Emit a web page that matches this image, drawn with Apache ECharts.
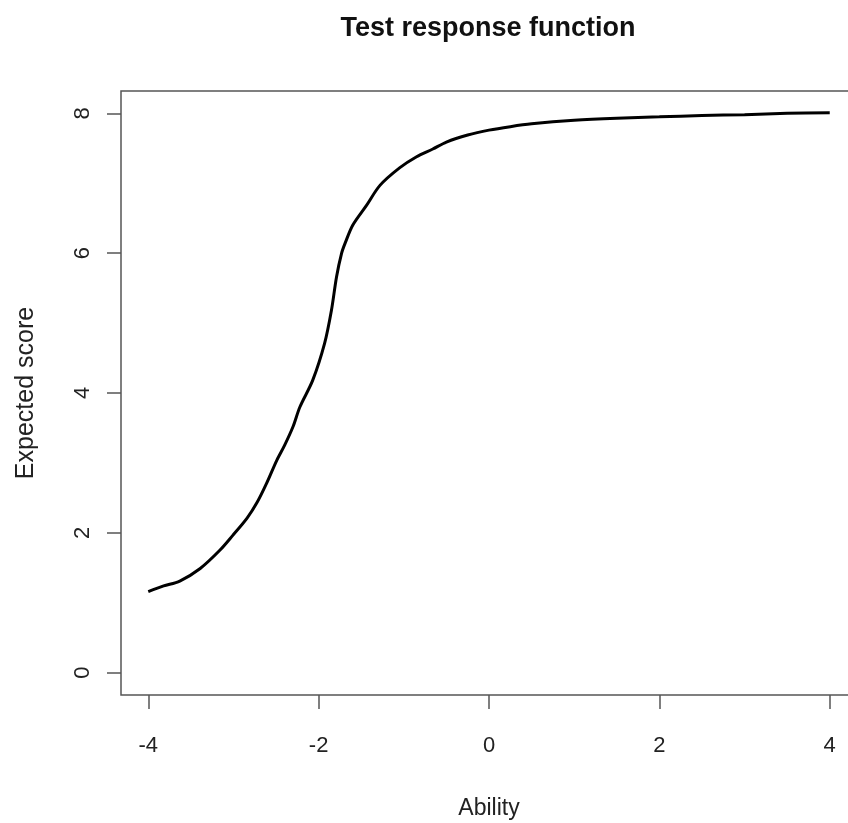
<!DOCTYPE html>
<html>
<head>
<meta charset="utf-8">
<script src="https://cdn.jsdelivr.net/npm/echarts@6/dist/echarts.min.js"></script>
<style>
html,body{margin:0;padding:0;background:#fff;}
#chart{width:848px;height:823px;}
</style>
</head>
<body>
<div id="chart"></div>
<script>
const titleText = 'Test response function';
const xName = 'Ability';
const yName = 'Expected score';
const xTicks = [-4, -2, 0, 2, 4];
const yTicks = [0, 2, 4, 6, 8];
const ability = [-4.0, -3.82, -3.63, -3.39, -3.16, -3.01, -2.84, -2.72, -2.61, -2.49, -2.40, -2.30, -2.22, -2.07, -1.93, -1.85, -1.79, -1.73, -1.69, -1.60, -1.44, -1.28, -1.05, -0.85, -0.66, -0.5, -0.25, 0.0, 0.25, 0.5, 1.0, 1.5, 2.0, 2.5, 3.0, 3.5, 4.0];
const score   = [1.16, 1.24, 1.31, 1.49, 1.75, 1.96, 2.21, 2.44, 2.71, 3.04, 3.25, 3.52, 3.80, 4.18, 4.71, 5.18, 5.66, 6.00, 6.14, 6.40, 6.68, 6.97, 7.22, 7.38, 7.49, 7.59, 7.69, 7.76, 7.81, 7.85, 7.90, 7.93, 7.95, 7.97, 7.98, 8.00, 8.01];

const chart = echarts.init(document.getElementById('chart'));
const font = '"Liberation Sans", Arial, Helvetica, sans-serif';
const txt = '#222';
const axisCol = '#555';
chart.setOption({
  animation: false,
  backgroundColor: '#fff',
  title: {
    text: titleText,
    left: 488, top: 15, padding: 0, textAlign: 'center',
    textStyle: {fontFamily: font, fontSize: 27, fontWeight: 'bold', color: '#111'}
  },
  grid: {
    left: 121, top: 91, width: 736, height: 604,
    show: true, borderColor: axisCol, borderWidth: 1.5, backgroundColor: 'transparent',
    outerBoundsMode: 'none', containLabel: false
  },
  xAxis: {
    type: 'value', min: -4.32, max: 4.32, position: 'bottom',
    name: xName, nameLocation: 'middle', nameGap: 102,
    nameTextStyle: {fontFamily: font, fontSize: 23, color: txt},
    axisLine: {show: false, onZero: false},
    splitLine: {show: false},
    axisTick: {show: true, customValues: xTicks, length: 14, inside: false, lineStyle: {color: axisCol, width: 1.5}},
    axisLabel: {customValues: xTicks, margin: 40, fontFamily: font, fontSize: 22, color: txt, formatter: v => String(v)}
  },
  yAxis: {
    type: 'value', min: -0.32, max: 8.32, position: 'left',
    name: yName, nameLocation: 'middle', nameGap: 82, nameRotate: 90,
    nameTextStyle: {fontFamily: font, fontSize: 25, color: txt},
    axisLine: {show: false, onZero: false},
    splitLine: {show: false},
    axisTick: {show: true, customValues: yTicks, length: 14, inside: false, lineStyle: {color: axisCol, width: 1.5}},
    axisLabel: {customValues: yTicks, rotate: 90, margin: 27, fontFamily: font, fontSize: 22, color: txt, formatter: v => String(v)}
  },
  series: [{
    type: 'line',
    data: ability.map((x, i) => [x, score[i]]),
    showSymbol: false,
    smooth: 0.3,
    lineStyle: {color: '#000', width: 3},
    clip: false
  }]
});
</script>
</body>
</html>
